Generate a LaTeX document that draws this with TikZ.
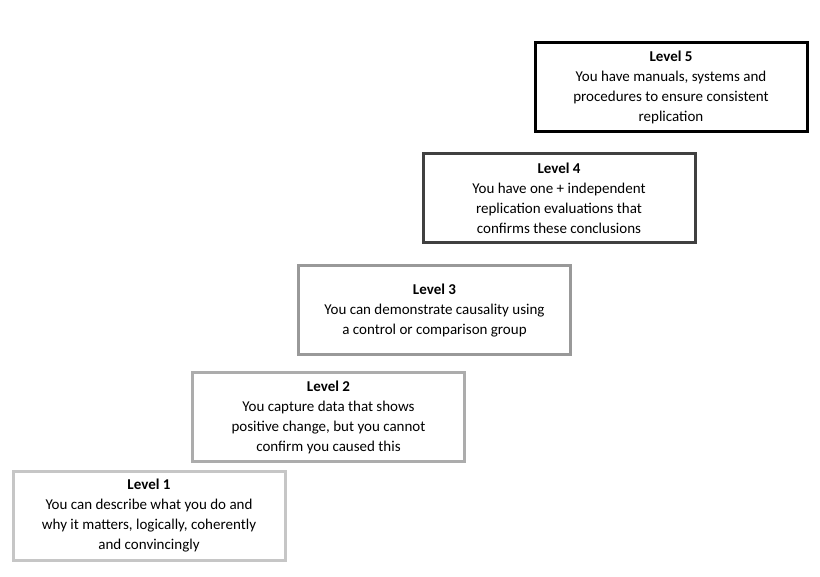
\documentclass[tikz,border=0pt]{standalone}
\usepackage{fontspec}
\setmainfont{Carlito}
\begin{document}
\begin{tikzpicture}[
    x=1pt, y=1pt,
    level/.style = {draw=#1, line width=3pt, fill=white, minimum width=272pt, minimum height=89pt,
                    align=center, inner sep=2pt, font=\fontsize{15}{20}\selectfont}
    ]
    \useasboundingbox (0,0) rectangle (820,577);
    \node[level=gray!45] (L1) at (149,61) {\textbf{Level 1}\\You can describe what you do and\\why it matters, logically, coherently\\and convincingly};
    \node[level=gray!65] (L2) at (328.5,159.5) {\textbf{Level 2}\\You capture data that shows\\positive change, but you cannot\\confirm you caused this};
    \node[level=gray!80] (L3) at (434.5,266.5) {\textbf{Level 3}\\You can demonstrate causality using\\a control or comparison group};
    \node[level=black!75] (L4) at (559,378.5) {\textbf{Level 4}\\You have one + independent\\replication evaluations that\\confirms these conclusions};
    \node[level=black] (L5) at (671,489.5) {\textbf{Level 5}\\You have manuals, systems and\\procedures to ensure consistent\\replication};
\end{tikzpicture}
\end{document}
